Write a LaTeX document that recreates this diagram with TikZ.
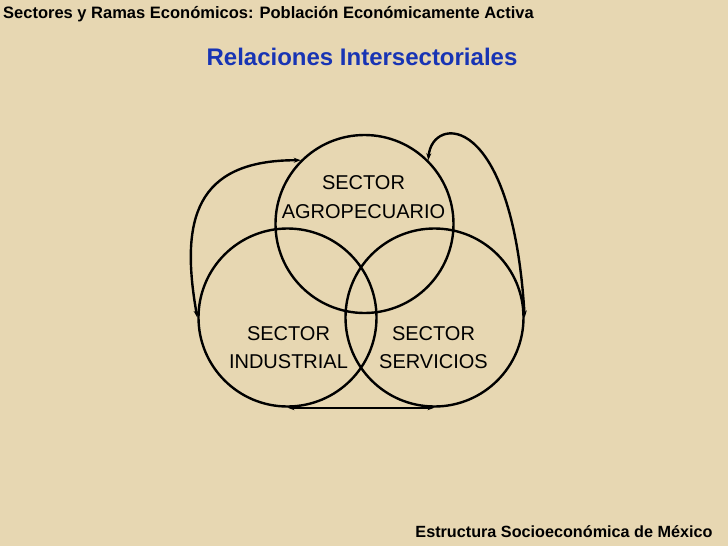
\documentclass[tikz,border=0pt]{standalone}
\usepackage{fontspec}
\setmainfont{Liberation Sans}
\usetikzlibrary{arrows.meta}
\definecolor{parchment}{RGB}{231,215,178}
\definecolor{titleblue}{RGB}{24,52,180}

\begin{document}
\begin{tikzpicture}[x=1pt, y=-1pt,
    sector/.style={draw, circle, minimum size=178pt, inner sep=0pt, line width=2.4pt},
    sectxt/.style={align=center, inner sep=0pt, font=\fontsize{20}{28.5}\selectfont},
    link/.style={line width=2.4pt, {Stealth[length=7pt,width=5pt]}-{Stealth[length=7pt,width=5pt]}}]
    % background
    \fill[parchment] (0,0) rectangle (728,546);
    \node[anchor=base west, inner sep=0pt, font=\bfseries\fontsize{16.5}{18}\selectfont] (head) at (3,19)
        {Sectores y Ramas Económicos: Población Económicamente Activa};
    \node[anchor=base, inner sep=0pt, text=titleblue, font=\bfseries\fontsize{24}{26}\selectfont] (title) at (362,65.5)
        {Relaciones Intersectoriales};
    \node[anchor=base, inner sep=0pt, font=\bfseries\fontsize{16.2}{18}\selectfont] (foot) at (564,537)
        {Estructura Socioeconómica de México};
    % the three sectors
    \foreach \name/\x/\y in {agro/364.5/224, indus/287.5/317.5, serv/434.5/317.5} {
        \node[sector] (\name) at (\x,\y) {};
    }
    \node[sectxt] (tagro) at (363.5,197) {SECTOR\\AGROPECUARIO};
    \node[sectxt] (tindus) at (288.5,347.5) {SECTOR\\INDUSTRIAL};
    \node[sectxt] (tserv) at (433.5,347.5) {SECTOR\\SERVICIOS};
    % relations
    \draw[link] (indus.west) .. controls (180,220) and (195,160) .. (agro.135);
    \draw[link] (agro.45) .. controls (432,115) and (512,110) .. (serv.east);
    \draw[link] (indus.south) -- (serv.south);
\end{tikzpicture}
\end{document}
